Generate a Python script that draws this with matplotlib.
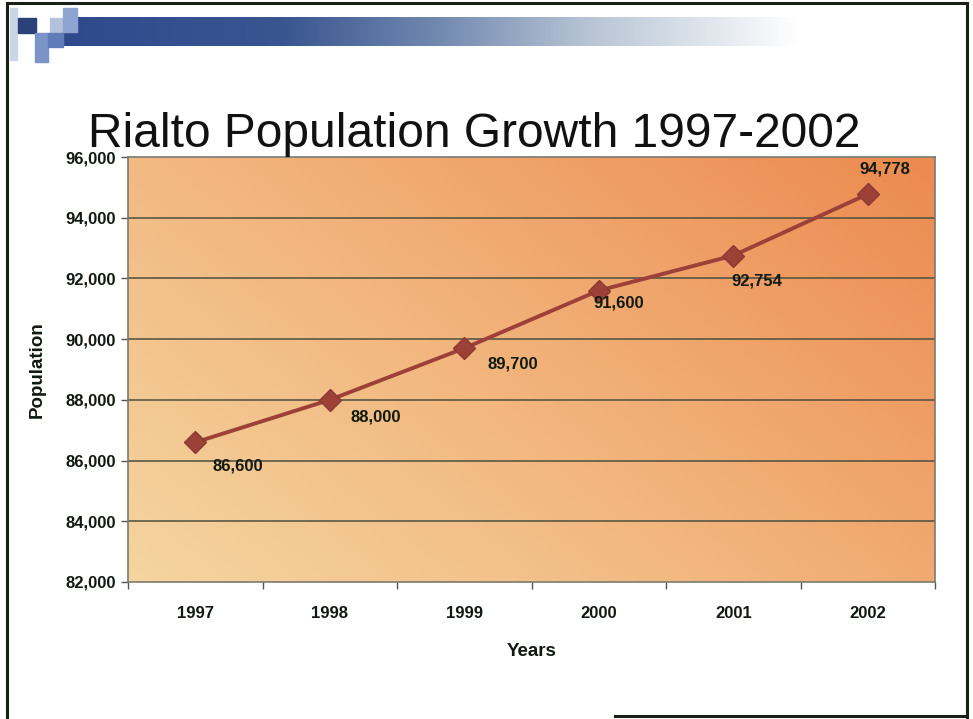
import numpy as np
import matplotlib
matplotlib.use("Agg")
import matplotlib.pyplot as plt
from matplotlib.patches import Rectangle
from matplotlib.lines import Line2D
from matplotlib.colors import LinearSegmentedColormap

years = ["1997", "1998", "1999", "2000", "2001", "2002"]
population = [86600, 88000, 89700, 91600, 92754, 94778]
value_labels = ["86,600", "88,000", "89,700", "91,600", "92,754", "94,778"]
y_ticks = [82000, 84000, 86000, 88000, 90000, 92000, 94000, 96000]
y_tick_labels = ["82,000", "84,000", "86,000", "88,000", "90,000", "92,000", "94,000", "96,000"]
title = "Rialto Population Growth 1997-2002"

# label offsets in points (style, not data)
label_offsets = [(31, -17), (33, -12), (35, -11), (14, -9), (17, -18), (12, 18)]

W, H = 973, 719
fig = plt.figure(figsize=(W / 100, H / 100), dpi=100)
fig.patch.set_facecolor("white")

def fx(px):
    return px / W

def fy(py):
    return 1 - py / H

# slide border
border_kw = dict(color="#1a1f1a", lw=2.2, transform=fig.transFigure)
fig.add_artist(Line2D([fx(7), fx(7)], [fy(3), fy(719)], **border_kw))
fig.add_artist(Line2D([fx(7), fx(967)], [fy(3), fy(3)], **border_kw))
fig.add_artist(Line2D([fx(967), fx(967)], [fy(3), fy(717)], **border_kw))
fig.add_artist(Line2D([fx(615), fx(967)], [fy(716), fy(716)], **border_kw))

# header decoration
hdr = fig.add_axes([0, 0, 1, 1], zorder=0)
hdr.set_xlim(0, W)
hdr.set_ylim(H, 0)
hdr.axis("off")
bar_cmap = LinearSegmentedColormap.from_list(
    "bar", [(0.0, "#2f4a8c"), (0.3, "#3a5690"), (0.5, "#6f86ae"), (0.72, "#b9c6d6"), (1.0, "#ffffff")])
grad = np.linspace(0, 1, 256).reshape(1, -1)
hdr.imshow(grad, cmap=bar_cmap, extent=[63, 800, 46, 17], aspect="auto", zorder=1)
hdr.add_patch(Rectangle((10, 8), 7, 52, color="#c9d6e6", zorder=2))
hdr.add_patch(Rectangle((18, 18), 18, 15, color="#2b4279", zorder=3))
hdr.add_patch(Rectangle((35, 33), 13, 29, color="#7b93c6", zorder=3))
hdr.add_patch(Rectangle((50, 18), 13, 15, color="#b3c2dc", zorder=3))
hdr.add_patch(Rectangle((63, 8), 14, 24, color="#8fa4d0", zorder=3))
hdr.add_patch(Rectangle((48, 33), 15, 14, color="#5f7cb8", zorder=3))

# title
fig.text(fx(88), fy(147), title, fontsize=34.5, family=["Liberation Sans", "DejaVu Sans"],
         color="#111111", ha="left", va="baseline")

# main axes
ax = fig.add_axes([fx(128), fy(582), fx(935) - fx(128), fy(157) - fy(582)], zorder=2)
x = np.arange(len(years))
ax.set_xlim(-0.5, len(years) - 0.5)
ax.set_ylim(82000, 96000)

# gradient background: light tan bottom-left to orange top-right
bg_cmap = LinearSegmentedColormap.from_list(
    "bg", [(0.0, "#f5d5a0"), (0.45, "#f2b67e"), (1.0, "#ec8a50")])
gx, gy = np.meshgrid(np.linspace(0, 1, 200), np.linspace(0, 1, 200))
g = (gx * 0.6 + gy * 0.4)
ax.imshow(g, cmap=bg_cmap, extent=[-0.5, len(years) - 0.5, 82000, 96000],
          origin="lower", aspect="auto", zorder=0)

for yv in y_ticks[1:-1]:
    ax.axhline(yv, color="#4a5040", lw=1.1, zorder=1)

ax.plot(x, population, color="#9c4038", lw=2.8, marker="D", markersize=11,
        markerfacecolor="#9c4038", markeredgecolor="#8a3a33", zorder=3)

lab_font = dict(family=["Liberation Sans Narrow", "Liberation Sans", "DejaVu Sans"],
                fontweight="bold", color="#111a11")
for xi, yi, lab, off in zip(x, population, value_labels, label_offsets):
    ax.annotate(lab, (xi, yi), xytext=off, textcoords="offset points",
                ha="center", va="center", fontsize=12, zorder=4, **lab_font)

ax.set_yticks(y_ticks)
ax.set_yticklabels(y_tick_labels, fontsize=12, **lab_font)
ax.set_xticks(x)
ax.set_xticklabels(years, fontsize=12, **lab_font)
ax.set_xticks(np.arange(-0.5, len(years)), minor=True)
ax.tick_params(axis="x", which="major", length=0, pad=17)
ax.tick_params(axis="x", which="minor", length=5, width=1, color="#555555", direction="out")
ax.tick_params(axis="y", length=5, width=1, color="#555555", direction="out", pad=4)

for side, sp in ax.spines.items():
    sp.set_color("#7a7a70")
    sp.set_linewidth(1.2)

ax.set_xlabel("Years", fontsize=13.5, labelpad=16, **lab_font)
ax.set_ylabel("Population", fontsize=13.5, labelpad=14,
              family=["Liberation Sans", "DejaVu Sans"], fontweight="bold", color="#111a11")

fig.savefig("out.png", dpi=100, facecolor="white")
